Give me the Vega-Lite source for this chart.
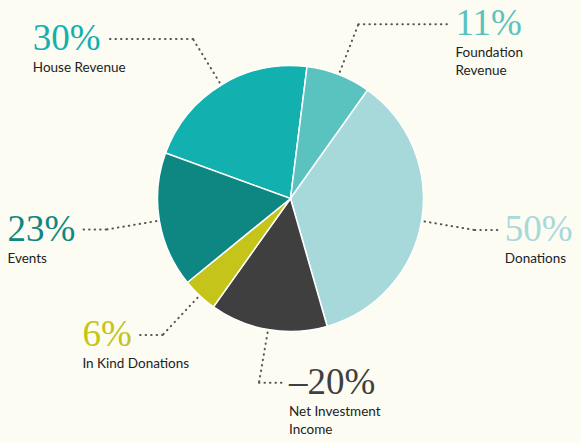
{
  "$schema": "https://vega.github.io/schema/vega-lite/v6.json",
  "width": 581,
  "height": 397,
  "autosize": {"type": "none"},
  "padding": {"top": 0, "bottom": 46, "left": 0, "right": 0},
  "background": "#fcfcf2",
  "config": {"view": {"stroke": null}},
  "data": {
    "values": [
      {"order": 1, "category": "House Revenue", "value": 30, "pct": "30%"},
      {"order": 2, "category": "Foundation\nRevenue", "value": 11, "pct": "11%"},
      {"order": 3, "category": "Donations", "value": 50, "pct": "50%"},
      {"order": 4, "category": "Net Investment\nIncome", "value": -20, "pct": "–20%"},
      {"order": 5, "category": "In Kind Donations", "value": 6, "pct": "6%"},
      {"order": 6, "category": "Events", "value": 23, "pct": "23%"}
    ]
  },
  "transform": [
    {"calculate": "abs(datum.value)", "as": "size"},
    {"stack": "size", "groupby": [], "sort": [{"field": "order", "order": "ascending"}], "as": ["s0", "s1"]},
    {"joinaggregate": [{"op": "sum", "field": "size", "as": "total"}]},
    {"calculate": "-1.22173 + PI * (datum.s0 + datum.s1) / datum.total", "as": "m"},
    {"calculate": "(datum.m + 2 * PI) % (2 * PI)", "as": "mn"},
    {"calculate": "datum.mn < 3.5 ? 1 : -1", "as": "side"},
    {"calculate": "136 * sin(datum.m)", "as": "ex"},
    {"calculate": "136 * cos(datum.m)", "as": "ey"},
    {"calculate": "187 * sin(datum.m)", "as": "bx"},
    {"calculate": "187 * cos(datum.m)", "as": "by"},
    {"calculate": "datum.bx + datum.side * (24 + 72 * max(cos(datum.m), 0))", "as": "hx"},
    {"calculate": "37 * (0.5 * (length(datum.pct) - 1) + 0.83)", "as": "w"},
    {"calculate": "datum.side > 0 ? datum.hx + 6 : datum.hx - 7 - datum.w", "as": "tx"}
  ],
  "layer": [
    {
      "mark": {"type": "arc", "outerRadius": 133, "stroke": "#ffffff", "strokeWidth": 1.5},
      "encoding": {
        "theta": {"field": "s0", "type": "quantitative", "stack": null, "scale": {"domain": [0, 140], "range": [-1.22173, 5.06145]}},
        "theta2": {"field": "s1"},
        "color": {
          "field": "order", "type": "nominal", "legend": null,
          "scale": {"domain": [1, 2, 3, 4, 5, 6], "range": ["#12b0ae", "#5bc3bf", "#a7d9da", "#3f3f3f", "#c4c41a", "#0e8783"]}
        }
      }
    },
    {
      "mark": {"type": "rule", "color": "#555555", "strokeWidth": 2, "strokeDash": [0.5, 5], "strokeCap": "round"},
      "encoding": {
        "x": {"field": "ex", "type": "quantitative", "scale": {"domain": [-290.5, 290.5]}, "axis": null},
        "y": {"field": "ey", "type": "quantitative", "scale": {"domain": [-198.5, 198.5]}, "axis": null},
        "x2": {"field": "bx"},
        "y2": {"field": "by"}
      }
    },
    {
      "mark": {"type": "rule", "color": "#555555", "strokeWidth": 2, "strokeDash": [0.5, 5], "strokeCap": "round"},
      "encoding": {
        "x": {"field": "bx", "type": "quantitative", "scale": {"domain": [-290.5, 290.5]}, "axis": null},
        "y": {"field": "by", "type": "quantitative", "scale": {"domain": [-198.5, 198.5]}, "axis": null},
        "x2": {"field": "hx"},
        "y2": {"field": "by"}
      }
    },
    {
      "mark": {"type": "text", "align": "left", "baseline": "middle", "font": "Liberation Serif", "fontSize": 37},
      "encoding": {
        "x": {"field": "tx", "type": "quantitative", "scale": {"domain": [-290.5, 290.5]}, "axis": null},
        "y": {"field": "by", "type": "quantitative", "scale": {"domain": [-198.5, 198.5]}, "axis": null},
        "text": {"field": "pct"},
        "color": {"field": "order", "type": "nominal", "legend": null}
      }
    },
    {
      "mark": {"type": "text", "align": "left", "baseline": "top", "dy": 22, "font": "Lato", "fontSize": 13.5, "color": "#222222", "lineBreak": "\n", "lineHeight": 18},
      "encoding": {
        "x": {"field": "tx", "type": "quantitative", "scale": {"domain": [-290.5, 290.5]}, "axis": null},
        "y": {"field": "by", "type": "quantitative", "scale": {"domain": [-198.5, 198.5]}, "axis": null},
        "text": {"field": "category"}
      }
    }
  ]
}
